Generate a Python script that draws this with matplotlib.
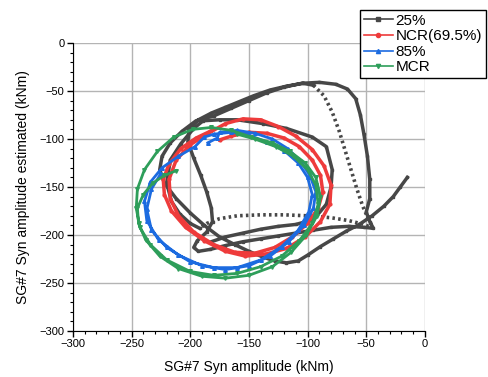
import numpy as np
import matplotlib.pyplot as plt
from matplotlib.ticker import MultipleLocator

plt.rcParams['font.family'] = ['Liberation Sans', 'DejaVu Sans']

# 25% - solid part 1 (start on the right, down-left, up the left side, big arcs)
gray1_x = [-15, -21, -27, -35, -45, -56, -67, -78, -89, -100, -108, -118, -128, -138, -150, -162,
           -175, -188, -200, -212, -222, -226, -224, -217, -207, -195, -180, -165, -150, -135,
           -120, -105, -90, -76, -66, -59, -55, -52, -49, -47, -47, -50, -47, -44,
           -52, -65, -80, -95, -110, -125, -140, -155, -170, -183, -193, -197, -194, -186,
           -181, -182, -186, -191, -197, -202, -201, -193, -182, -170, -158, -146, -132,
           -118, -104, -95]
gray1_y = [-140, -150, -160, -170, -180, -189, -196, -204, -212, -221, -227, -229, -227, -223, -217, -210,
           -202, -190, -177, -162, -146, -132, -118, -104, -92, -81, -76, -68, -60, -52,
           -46, -42, -41, -43, -48, -58, -75, -95, -118, -142, -162, -176, -186, -193,
           -192, -191, -192, -195, -198, -201, -204, -207, -211, -215, -217, -213, -206, -197,
           -186, -172, -155, -138, -120, -103, -90, -80, -73, -67, -61, -55, -49,
           -45, -42, -44]
# 25% - fast (dotted) part
gray2_x = [-95, -86, -79, -73, -68, -63, -58, -53, -48, -44, -52, -65, -80, -100, -120, -140,
           -160, -175, -186, -192]
gray2_y = [-44, -55, -72, -92, -112, -132, -152, -170, -184, -193, -189, -185, -182, -180, -179, -179,
           -180, -183, -188, -193]
# 25% - solid part 2 (inner loop)
gray3_x = [-192, -200, -209, -216, -220, -217, -208, -197, -189, -175, -160, -138, -118, -96, -84,
           -79, -80, -84, -95, -110, -125, -140, -155, -170, -182]
gray3_y = [-193, -188, -178, -165, -146, -122, -105, -89, -81, -80, -80, -84, -89, -98, -108,
           -132, -150, -168, -184, -189, -191, -194, -198, -202, -207]

red_x = [-175, -165, -150, -135, -120, -107, -96, -89, -87, -91, -100, -113, -128, -145, -162,
         -180, -197, -210, -217, -218, -212, -200, -186, -170, -155, -140, -125, -110, -96, -86,
         -80, -81, -89, -102, -118, -136, -153, -170, -188, -204, -216, -222, -223, -218, -208,
         -195, -183]
red_y = [-101, -97, -93, -94, -99, -108, -122, -138, -155, -172, -188, -202, -213, -219, -218,
         -210, -197, -180, -162, -142, -122, -106, -95, -84, -79, -80, -87, -97, -111, -128,
         -148, -168, -186, -202, -214, -220, -222, -217, -206, -192, -175, -158, -142, -126, -110,
         -99, -92]

blue_x = [-185, -177, -175, -160, -145, -130, -117, -106, -98, -93, -95, -103, -116, -132, -150,
          -170, -190, -210, -227, -237, -239, -234, -224, -210, -196, -188, -180, -165, -150, -135,
          -120, -108, -100, -96, -99, -108, -122, -140, -160, -180, -200, -220, -233, -237, -233,
          -225]
blue_y = [-104, -99, -93, -91, -94, -100, -110, -123, -138, -155, -172, -190, -207, -222, -232,
          -236, -232, -221, -205, -185, -165, -145, -130, -118, -108, -98, -95, -93, -96, -103,
          -112, -125, -140, -158, -176, -195, -212, -226, -234, -234, -228, -213, -195, -173, -152,
          -136]

green_x = [-212, -222, -232, -240, -245, -244, -238, -226, -210, -190, -170, -150, -130, -114, -101,
           -92, -89, -93, -102, -115, -130, -148, -165, -182, -198, -214, -228, -239, -245, -246,
           -243, -234, -220, -200, -180, -160, -140, -122, -107, -96, -91, -93, -100, -112, -127,
           -145, -160]
green_y = [-133, -138, -146, -158, -172, -188, -205, -222, -235, -243, -245, -242, -233, -218, -200,
           -180, -160, -140, -125, -113, -104, -98, -91, -88, -90, -98, -113, -132, -152, -172,
           -192, -210, -226, -238, -242, -240, -233, -222, -206, -188, -168, -148, -132, -118, -108,
           -100, -95]

c_gray = '#474747'
c_red = '#EE3B3B'
c_blue = '#1C6BE0'
c_green = '#2E9E5A'

fig = plt.figure(figsize=(4.89, 3.77), dpi=100)
ax = fig.add_axes([0.149, 0.122, 0.72, 0.764])

ax.plot(gray1_x, gray1_y, color=c_gray, lw=2.5, marker='s', ms=1.8, label='25%')
ax.plot(gray2_x, gray2_y, color=c_gray, lw=2.6, ls=(0, (0.7, 0.9)))
ax.plot(gray3_x, gray3_y, color=c_gray, lw=2.5, marker='s', ms=1.8)
ax.plot(red_x, red_y, color=c_red, lw=2.5, marker='o', ms=2, label='NCR(69.5%)')
ax.plot(blue_x, blue_y, color=c_blue, lw=2.0, marker='^', ms=2.6, label='85%')
ax.plot(green_x, green_y, color=c_green, lw=2.0, marker='v', ms=2.6, label='MCR')

ax.set_xlim(-300, 0)
ax.set_ylim(-300, 0)
ax.xaxis.set_major_locator(MultipleLocator(50))
ax.yaxis.set_major_locator(MultipleLocator(50))
ax.xaxis.set_minor_locator(MultipleLocator(10))
ax.yaxis.set_minor_locator(MultipleLocator(10))
ax.grid(True, which='major', color='#b4b4b4', lw=1.0)
ax.set_axisbelow(True)
for s in ['top', 'right']:
    ax.spines[s].set_visible(False)
ax.tick_params(which='major', direction='out', length=4, width=1, labelsize=8, pad=2)
ax.tick_params(which='minor', direction='out', length=2.5, width=0.8)

ax.set_xlabel('SG#7 Syn amplitude (kNm)', fontsize=10, labelpad=8)
ax.set_ylabel('SG#7 Syn amplitude estimated (kNm)', fontsize=10, labelpad=7)

leg = fig.legend(loc='upper right', bbox_to_anchor=(486 / 489, 1 - 10 / 377),
                 fontsize=11, frameon=True, fancybox=False, edgecolor='black',
                 framealpha=1, handlelength=1.9, borderpad=0.25, labelspacing=0.1,
                 handletextpad=0.2, borderaxespad=0)
leg.get_frame().set_linewidth(1.0)
for line in leg.get_lines():
    line.set_linewidth(1.2)
    line.set_linestyle('-')
    line.set_markersize(3)

fig.savefig('out.png', dpi=100)
